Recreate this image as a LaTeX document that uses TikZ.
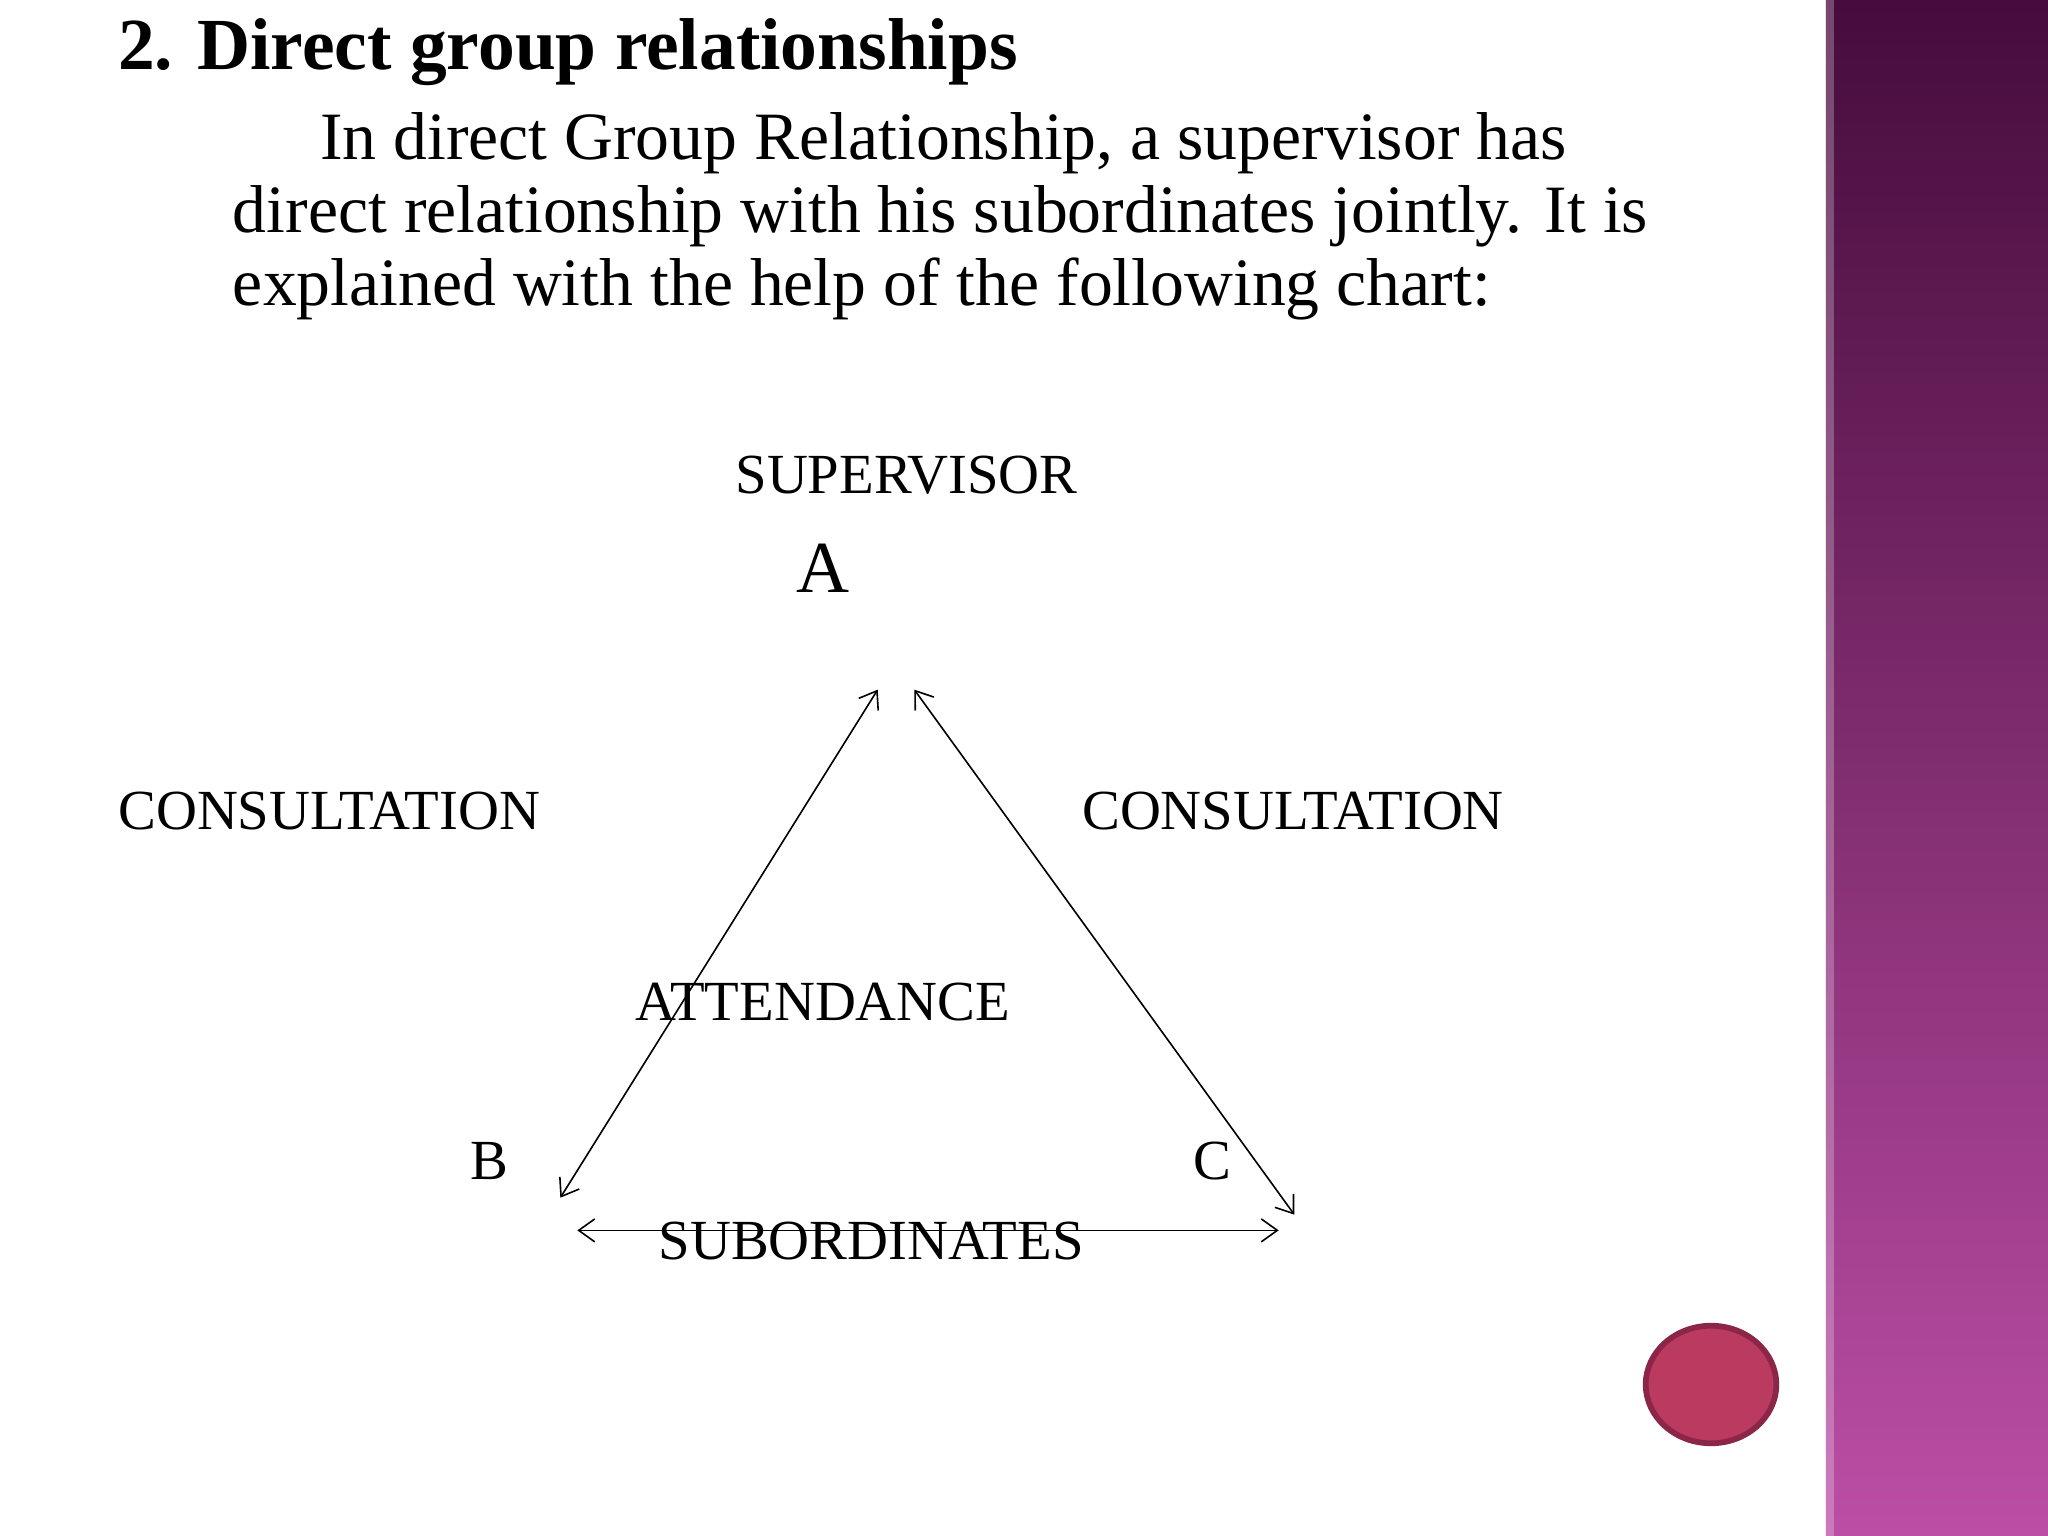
\documentclass[tikz,border=0pt]{standalone}
\usepackage{fontspec}
\setmainfont{Liberation Serif}
\usetikzlibrary{arrows.meta}
\begin{document}
\begin{tikzpicture}[x=0.02cm,y=-0.02cm,
  lbl/.style={font=\fontsize{24.7}{28}\selectfont,inner sep=0pt},
  arr/.style={line width=0.7pt,<->,>={Straight Barb[length=7pt,width=10pt]}}]
\useasboundingbox (0,0) rectangle (1568,1176);
\fill[white] (0,0) rectangle (1568,1176);
\shade[top color={rgb,255:red,70;green,12;blue,60},bottom color={rgb,255:red,188;green,78;blue,165}] (1398,0) rectangle (1568,1176);
\fill[white,opacity=0.25] (1398,0) rectangle (1404,1176);
\node[anchor=west,inner sep=0pt,font=\fontsize{32}{36}\bfseries\selectfont] (title) at (90,40) {2. Direct group relationships};
\node[anchor=north west,inner sep=0pt,align=left,font=\fontsize{29.5}{31.7}\selectfont] (body) at (178,86)
 {\hspace*{38pt}In direct Group Relationship, a supervisor has\\direct relationship with his subordinates jointly. It is\\explained with the help of the following chart:};
\node[lbl] (sup) at (694,364) {SUPERVISOR};
\node[lbl,font=\fontsize{32}{36}\selectfont] (A) at (630,435) {A};
\node[lbl] (cl) at (252,621) {CONSULTATION};
\node[lbl] (cr) at (990,621) {CONSULTATION};
\node[lbl] (att) at (630,767) {ATTENDANCE};
\node[lbl] (B) at (375,889) {B};
\node[lbl] (C) at (928,889) {C};
\node[lbl] (sub) at (667,950) {SUBORDINATES};
\coordinate (l1) at (672,528); \coordinate (l2) at (429,917);
\coordinate (r1) at (700,528); \coordinate (r2) at (991,930);
\coordinate (b1) at (442,942); \coordinate (b2) at (979,942);
\draw[arr] (l1) -- (l2);
\draw[arr] (r1) -- (r2);
\draw[arr] (b1) -- (b2);
\draw[line width=2.5pt,draw={rgb,255:red,140;green,38;blue,72},fill={rgb,255:red,186;green,58;blue,96}] (1310,1060) ellipse [x radius=50,y radius=45];
\end{tikzpicture}
\end{document}
